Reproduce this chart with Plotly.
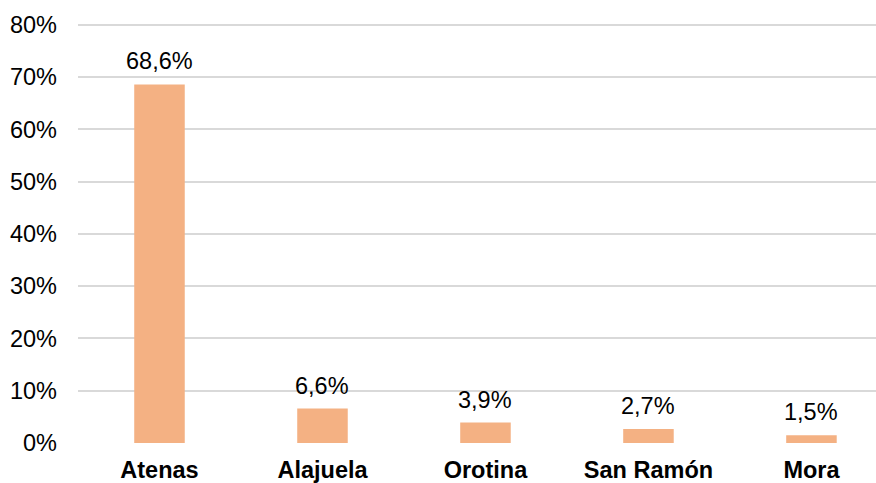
import plotly.graph_objects as go

cantones = ["Atenas", "Alajuela", "Orotina", "San Ramón", "Mora"]
porcentajes = [68.6, 6.6, 3.9, 2.7, 1.5]
etiquetas = ["68,6%", "6,6%", "3,9%", "2,7%", "1,5%"]
y_ticks = [0, 10, 20, 30, 40, 50, 60, 70, 80]
y_tick_text = ["0%", "10%", "20%", "30%", "40%", "50%", "60%", "70%", "80%"]

FONT_SIZE = 23.5

fig = go.Figure(
    go.Bar(
        x=list(range(len(cantones))),
        y=porcentajes,
        marker={"color": "#F4B183", "line": {"width": 0}},
        width=0.31,
        hoverinfo="skip",
    )
)

# data labels sit a little above each bar
for i, (val, lab) in enumerate(zip(porcentajes, etiquetas)):
    fig.add_annotation(
        x=i,
        y=val,
        text=lab,
        showarrow=False,
        yanchor="bottom",
        yshift=8,
        font={"size": FONT_SIZE, "color": "#000000"},
    )

fig.update_layout(
    width=876,
    height=483,
    margin={"t": 23, "r": 0, "b": 40, "l": 78, "pad": 0},
    paper_bgcolor="white",
    plot_bgcolor="white",
    font={"family": "Liberation Sans, Arial, sans-serif", "size": FONT_SIZE, "color": "#000000"},
    showlegend=False,
    xaxis={
        "range": [-0.5, 4.396],
        "tickvals": list(range(len(cantones))),
        "ticktext": [f"<b>{c}</b>" for c in cantones],
        "showgrid": False,
        "zeroline": False,
        "showline": False,
        "ticks": "",
        "ticklabelstandoff": 10,
        "tickfont": {"size": FONT_SIZE},
        "fixedrange": True,
    },
    yaxis={
        "range": [0, 80.35],
        "tickvals": y_ticks,
        "ticktext": y_tick_text,
        "showgrid": True,
        "gridcolor": "#D9D9D9",
        "gridwidth": 1.5,
        "zeroline": False,
        "showline": False,
        "ticks": "",
        "ticklabelstandoff": 20,
        "tickfont": {"size": FONT_SIZE},
        "fixedrange": True,
    },
)

fig.write_html(
    "out.html",
    config={"displayModeBar": False},
    post_script=(
        "document.documentElement.style.overflow='hidden';"
        "document.body.style.margin='0';document.body.style.overflow='hidden';"
    ),
)
